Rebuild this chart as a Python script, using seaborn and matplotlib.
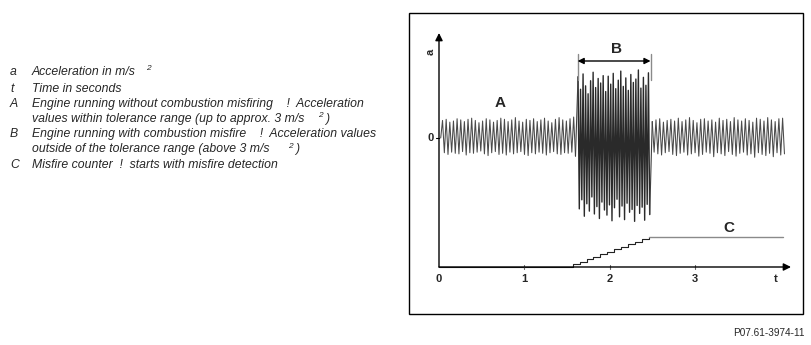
import numpy as np
import pandas as pd
import matplotlib
matplotlib.use("Agg")
import matplotlib.pyplot as plt
from matplotlib.patches import Rectangle
import seaborn as sns

# ---------------- data ----------------
# acceleration extremes (m/s^2), alternating peak / trough
seg_A1 = [0.0,
          3.1, -2.6, 3.3, -2.9, 2.8, -2.5, 3.0, -2.7, 3.4, -2.8, 3.2, -2.4, 2.9, -3.0,
          3.3, -2.6, 3.5, -2.7, 3.1, -2.5, 2.7, -2.3, 3.0, -2.8, 3.4, -3.1, 3.2, -2.6,
          2.8, -2.4, 3.1, -2.9, 3.5, -2.7, 3.3, -3.0, 2.9, -2.5, 3.2, -2.8, 3.6, -2.6,
          3.0, -2.4, 2.8, -2.9, 3.3, -3.1, 3.1, -2.6, 3.4, -2.8, 2.9, -2.5, 3.2, -2.7,
          3.5, -3.0, 3.0, -2.6, 2.7, -2.4, 3.3, -2.8, 3.6, -2.9, 3.2, -2.6, 3.0, -2.7,
          3.4, -2.5, 3.7, -3.2]
seg_B = [10.8, -12.5, 8.6, -10.9, 11.3, -13.8, 9.2, -11.6, 7.8, -12.9, 10.1, -10.4,
         11.6, -13.4, 8.9, -12.1, 10.5, -14.2, 9.7, -11.3, 11.0, -12.7, 8.2, -13.6,
         10.9, -11.8, 9.5, -14.6, 11.4, -12.3, 8.7, -10.8, 10.2, -13.9, 11.8, -12.0,
         9.1, -14.4, 10.6, -11.5, 8.4, -13.1, 11.2, -12.6, 9.8, -14.7, 10.4, -11.9,
         12.0, -13.3, 8.8, -12.2, 10.7, -14.5, 9.3, -11.7, 11.5, -13.5]
seg_A2 = [2.9, -2.5, 3.2, -2.8, 3.4, -3.0, 2.8, -2.6, 3.1, -2.4, 3.3, -2.9, 3.0, -3.1,
          3.5, -2.7, 2.9, -2.5, 3.2, -3.0, 3.6, -2.8, 3.1, -2.6, 2.7, -3.2, 3.3, -2.9,
          3.4, -2.5, 3.0, -2.7, 3.2, -3.3, 2.8, -2.6, 3.5, -2.8, 3.1, -3.1, 3.3, -2.4,
          2.9, -2.9, 3.6, -3.2, 3.2, -2.7, 3.0, -2.5, 3.4, -3.0, 3.1, -2.8, 2.8, -3.4,
          3.5, -2.6, 3.3, -2.9, 3.0, -3.1, 3.6, -2.7, 3.2, -3.3, 2.9, -2.6, 3.4, -3.0,
          3.5, -2.8]
seg_spans = {"A1": (0.02, 1.60), "B": (1.63, 2.47), "A2": (2.50, 4.05)}

# misfire counter
counter_t = [0.0, 1.57, 1.65, 1.73, 1.81, 1.89, 1.97, 2.05, 2.13, 2.22, 2.30, 2.38, 2.46]
counter_n = [0, 1, 2, 3, 4, 5, 6, 7, 8, 9, 10, 11, 12]
counter_end = 4.03

xtick_vals = [0, 1, 2, 3]
xtick_labels = ["0", "1", "2", "3"]

legend_keys = ["a", "t", "A", "", "B", "", "C"]
legend_lines = [
    "Acceleration in m/s",
    "Time in seconds",
    "Engine running without combustion misfiring    !  Acceleration",
    "values within tolerance range (up to approx. 3 m/s",
    "Engine running with combustion misfire    !  Acceleration values",
    "outside of the tolerance range (above 3 m/s",
    "Misfire counter  !  starts with misfire detection",
]

# ---------------- figure ----------------
W, H = 811, 345
PX_T = 85.3      # px per second
PX_A = 5.67      # px per m/s^2
X0, Y0 = 439, 138
BASE = -(267 - Y0) / PX_A
CNT = 30.5 / 12 / PX_A

sns.set_theme(style="white")
plt.rcParams["font.family"] = ["Liberation Sans", "DejaVu Sans"]

fig = plt.figure(figsize=(W / 100, H / 100), dpi=100)
ax = fig.add_axes([0, 0, 1, 1])
ax.set_xlim(-X0 / PX_T, (W - X0) / PX_T)
ax.set_ylim(-(H - Y0) / PX_A, Y0 / PX_A)
ax.axis("off")


def P(x, y):
    return (x / W, 1 - y / H)


# frame
fig.add_artist(Rectangle(P(409, 314), 394 / W, 301 / H, transform=fig.transFigure,
                         fill=False, edgecolor="black", linewidth=1.0))

# signal
for key, vals, lw, col in (("A1", seg_A1, 0.75, "#4a4a4a"),
                           ("B", seg_B, 1.0, "#2a2a2a"),
                           ("A2", seg_A2, 0.75, "#4a4a4a")):
    a, b = seg_spans[key]
    df = pd.DataFrame({"t": np.linspace(a, b, len(vals)), "a": vals})
    sns.lineplot(data=df, x="t", y="a", ax=ax, color=col, linewidth=lw,
                 estimator=None, sort=False)
# joints between segments
for (k1, v1), (k2, v2) in ((("A1", seg_A1), ("B", seg_B)), (("B", seg_B), ("A2", seg_A2))):
    jd = pd.DataFrame({"t": [seg_spans[k1][1], seg_spans[k2][0]], "a": [v1[-1], v2[0]]})
    sns.lineplot(data=jd, x="t", y="a", ax=ax, color="#404040", linewidth=0.8,
                 estimator=None, sort=False)

# counter
cdf = pd.DataFrame({"t": counter_t, "lvl": BASE + np.array(counter_n) * CNT})
sns.lineplot(data=cdf, x="t", y="lvl", ax=ax, color="#222222", linewidth=0.8,
             drawstyle="steps-post", estimator=None, sort=False)
cflat = pd.DataFrame({"t": [counter_t[-1], counter_end],
                      "lvl": [BASE + counter_n[-1] * CNT] * 2})
sns.lineplot(data=cflat, x="t", y="lvl", ax=ax, color="#8a8a8a", linewidth=1.0,
             estimator=None, sort=False)

# axes with arrows
ax.annotate("", xy=((791 - X0) / PX_T, BASE), xytext=(0, BASE),
            arrowprops=dict(arrowstyle="-|>", color="black", lw=1.0,
                            mutation_scale=11, shrinkA=0, shrinkB=0))
ax.annotate("", xy=(0, (Y0 - 33) / PX_A), xytext=(0, BASE),
            arrowprops=dict(arrowstyle="-|>", color="black", lw=1.0,
                            mutation_scale=11, shrinkA=0, shrinkB=0))

# ticks
for v, lab in zip(xtick_vals, xtick_labels):
    if v > 0:
        ax.plot([v, v], [BASE - 0.35, BASE + 0.35], color="#666666", lw=0.8)
    ax.text(v, BASE - 1.3, lab, ha="center", va="top", fontsize=8,
            fontweight="bold")
ax.plot([-0.04, 0], [0, 0], color="black", lw=0.8)
ax.text(-8 / PX_T, 0, "0", ha="center", va="center", fontsize=8, fontweight="bold")
ax.text((776 - X0) / PX_T, BASE - 1.3, "t", ha="center", va="top", fontsize=8.2,
        fontweight="bold")
ax.text(-8 / PX_T, (Y0 - 52) / PX_A, "a", ha="center", va="center", fontsize=8,
        fontweight="bold", rotation=90)

# curve labels
ax.text((500 - X0) / PX_T, (Y0 - 103) / PX_A, "A", ha="center", va="center",
        fontsize=11, fontweight="bold")
ax.text((616 - X0) / PX_T, (Y0 - 49) / PX_A, "B", ha="center", va="center",
        fontsize=11, fontweight="bold")
ax.text((729 - X0) / PX_T, (Y0 - 228) / PX_A, "C", ha="center", va="center",
        fontsize=11, fontweight="bold")

# B bracket
bl, br = seg_spans["B"][0] - 0.005, seg_spans["B"][1] + 0.01
for xb in (bl, br):
    ax.plot([xb, xb], [(Y0 - 54) / PX_A, (Y0 - 80) / PX_A], color="#8a8a8a", lw=1.0)
ax.annotate("", xy=(br, (Y0 - 61) / PX_A), xytext=(bl, (Y0 - 61) / PX_A),
            arrowprops=dict(arrowstyle="<|-|>", color="black", lw=1.0,
                            mutation_scale=9, shrinkA=0, shrinkB=0))

# legend text block
FS = 8.8
ys = [72, 89, 104, 119, 134, 149, 165]
sup_gap = {0: 10, 3: 14, 5: 19}
for i, (k, y, txt) in enumerate(zip(legend_keys, ys, legend_lines)):
    if k:
        fig.text(*P(10, y), k, ha="left", va="center", fontsize=FS, style="italic")
    t_art = fig.text(*P(32, y), txt, ha="left", va="center", fontsize=FS,
                     style="italic")
    if i in sup_gap:
        g = sup_gap[i]
        ax.annotate("2", xy=(1, 0.5), xycoords=t_art, xytext=(g, 3),
                    textcoords="offset pixels", ha="left", va="center",
                    fontsize=6, style="italic")
        if i != 0:
            ax.annotate(")", xy=(1, 0.5), xycoords=t_art, xytext=(g + 7, 0),
                        textcoords="offset pixels", ha="left", va="center",
                        fontsize=FS, style="italic")

# footer
fig.text(*P(805, 333), "P07.61-3974-11", ha="right", va="center", fontsize=7.2)

fig.savefig("out.png", dpi=100)
